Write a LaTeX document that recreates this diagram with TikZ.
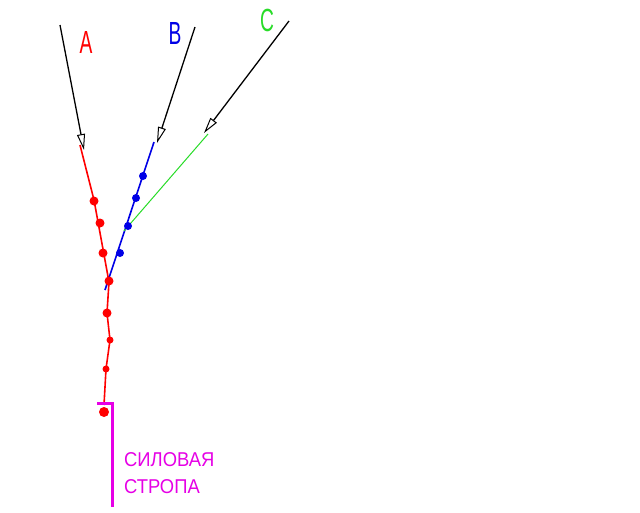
\documentclass[tikz,border=0pt]{standalone}
\usepackage{fontspec}
\setmainfont{Liberation Sans}
\usetikzlibrary{arrows.meta}
\definecolor{pred}{RGB}{255,0,0}
\definecolor{pblue}{RGB}{0,0,230}
\definecolor{pgreen}{RGB}{40,220,40}
\definecolor{pmag}{RGB}{230,0,230}
\tikzset{
  dotr/.style={circle,fill=pred,inner sep=0pt,minimum size=9pt},
  dotb/.style={circle,fill=pblue,inner sep=0pt,minimum size=8pt},
  guide/.style={draw=black,line width=1.3pt,-{Triangle[open,length=16pt,width=8pt,line width=1pt]}},
  lbl/.style={font=\fontsize{32}{32}\selectfont,inner sep=0pt,xscale=0.6},
  cyr/.style={font=\fontsize{20}{20}\selectfont,text=pmag,inner sep=0pt,xscale=0.92,anchor=west}
}
\begin{document}
\begin{tikzpicture}[x=1pt,y=-1pt]
\useasboundingbox[fill=white] (0,0) rectangle (640,512);
% coordinates
\coordinate (Atop) at (60,25);
\coordinate (Aend) at (84,150);
\coordinate (Btop) at (195,27);
\coordinate (Bend) at (157,143);
\coordinate (Ctop) at (289,21);
\coordinate (Cend) at (204,133);
\coordinate (Rtop) at (80,145);
\coordinate (J) at (109,282);
\coordinate (Rbot) at (104,405);
\coordinate (Btip) at (154,142);
\coordinate (Bbot) at (105,290);
\coordinate (Gtop) at (208,134);
\coordinate (Gbot) at (124,231);
\coordinate (Mtop) at (112,403);
\coordinate (Mbot) at (112,507);
\coordinate (Mleft) at (97,403);
% guide lines
\draw[guide] (Atop) -- (Aend);
\draw[guide] (Btop) -- (Bend);
\draw[guide] (Ctop) -- (Cend);
% red line
\draw[pred,line width=1.6pt] (Rtop) -- (94,200) -- (J) -- (107,313) -- (110,340) -- (106,369) -- (Rbot);
% blue line
\draw[pblue,line width=1.6pt] (Btip) -- (Bbot);
% green line
\draw[pgreen,line width=1pt] (Gtop) -- (Gbot);
% magenta line
\draw[pmag,line width=3pt] (Mleft) -- (Mtop) -- (Mbot);
% red dots
\node[dotr] (r1) at (94,201) {};
\node[dotr] (r2) at (100,223) {};
\node[dotr] (r3) at (103,253) {};
\node[dotr] (r4) at (109,281) {};
\node[dotr] (r5) at (107,313) {};
\node[dotr,minimum size=7pt] (r6) at (110,340) {};
\node[dotr,minimum size=7pt] (r7) at (106,369) {};
\node[dotr,minimum size=10pt] (r8) at (104,412) {};
% blue dots
\node[dotb] (b1) at (143,176) {};
\node[dotb] (b2) at (136,198) {};
\node[dotb] (b3) at (128,226) {};
\node[dotb] (b4) at (120,253) {};
% labels
\node[lbl,text=pred] (la) at (86,42) {A};
\node[lbl,text=pblue] (lb) at (175,33) {B};
\node[lbl,text=pgreen] (lc) at (267,20) {C};
\node[cyr] (t1) at (124,460) {СИЛОВАЯ};
\node[cyr] (t2) at (124,487) {СТРОПА};
\end{tikzpicture}
\end{document}
